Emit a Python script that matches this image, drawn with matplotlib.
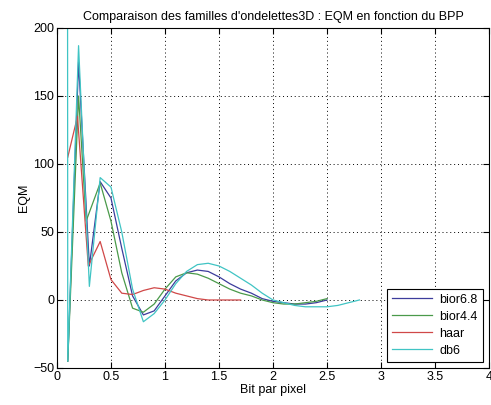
import matplotlib
matplotlib.use("Agg")
import matplotlib.pyplot as plt

plt.rcParams['font.family'] = ['Liberation Sans', 'DejaVu Sans']

# bior6.8
x_bior68 = [0.1, 0.2, 0.3, 0.4, 0.5, 0.6, 0.7, 0.8, 0.9, 1.0, 1.1, 1.2, 1.3, 1.4, 1.5,
            1.6, 1.7, 1.8, 1.9, 2.0, 2.1, 2.2, 2.3, 2.4, 2.5]
y_bior68 = [-45, 175, 25, 87, 75, 38, 3, -11, -8, 3, 14, 20, 22, 21, 17,
            12, 8, 5, 1, -1, -2, -3, -3, -2, 0]

# bior4.4
x_bior44 = [0.1, 0.2, 0.27, 0.4, 0.5, 0.6, 0.7, 0.8, 0.9, 1.0, 1.1, 1.2, 1.3, 1.4, 1.5,
            1.6, 1.7, 1.8, 1.9, 2.0, 2.1, 2.2, 2.3, 2.4, 2.5]
y_bior44 = [-45, 150, 58, 86, 58, 20, -6, -9, -3, 8, 17, 20, 19, 16, 12,
            8, 5, 3, 0, -2, -3, -3, -2, -1, 1]

# haar
x_haar = [0.1, 0.19, 0.29, 0.4, 0.5, 0.6, 0.7, 0.8, 0.9, 1.0, 1.1, 1.2, 1.3, 1.4, 1.5, 1.6, 1.7]
y_haar = [105, 135, 25, 43, 15, 5, 4, 7, 9, 8, 5, 3, 1, 0, 0, 0, 0]

# db6
x_db6 = [0.095, 0.1, 0.2, 0.3, 0.4, 0.5, 0.6, 0.7, 0.8, 0.9, 1.0, 1.1, 1.2, 1.3, 1.4,
         1.5, 1.6, 1.7, 1.8, 1.9, 2.0, 2.1, 2.2, 2.3, 2.4, 2.5, 2.6, 2.7, 2.8]
y_db6 = [700, -45, 187, 10, 90, 83, 50, 8, -16, -10, 0, 12, 21, 26, 27,
         25, 21, 16, 11, 5, 0, -2, -4, -5, -5, -5, -4, -2, 0]

labels = ['bior6.8', 'bior4.4', 'haar', 'db6']
colors = ['#3c3c9c', '#4a9a4a', '#d04848', '#40c4c4']
xticks = [0, 0.5, 1, 1.5, 2, 2.5, 3, 3.5, 4]
xticklabels = ['0', '0.5', '1', '1.5', '2', '2.5', '3', '3.5', '4']
yticks = [-50, 0, 50, 100, 150, 200]

fig = plt.figure(figsize=(4.91, 4.05), dpi=100)
ax = fig.add_axes([0.116, 0.0914, 0.88, 0.8395])

series = [(x_bior68, y_bior68), (x_bior44, y_bior44), (x_haar, y_haar), (x_db6, y_db6)]
for (xs, ys), lab, c in zip(series, labels, colors):
    ax.plot(xs, ys, color=c, lw=0.9, label=lab)

ax.set_xlim(0, 4)
ax.set_ylim(-50, 200)
ax.set_xticks(xticks)
ax.set_xticklabels(xticklabels)
ax.set_yticks(yticks)
ax.tick_params(direction='in', top=True, right=True, length=4, labelsize=9, pad=2)
ax.grid(True, linestyle=(0, (1, 3)), color='black', lw=0.7)
for s in ax.spines.values():
    s.set_linewidth(0.8)

ax.set_title("Comparaison des familles d'ondelettes3D : EQM en fonction du BPP", fontsize=9, pad=6)
ax.set_xlabel('Bit par pixel', fontsize=9, labelpad=1)
ax.set_ylabel('EQM', fontsize=9, labelpad=2)

leg = ax.legend(loc='lower right', fontsize=9, fancybox=False, framealpha=1,
                edgecolor='black', handlelength=3.2, borderaxespad=0.5,
                labelspacing=0.4, handletextpad=0.6)
leg.get_frame().set_linewidth(0.8)

fig.savefig('out.png', dpi=100, facecolor='white')
